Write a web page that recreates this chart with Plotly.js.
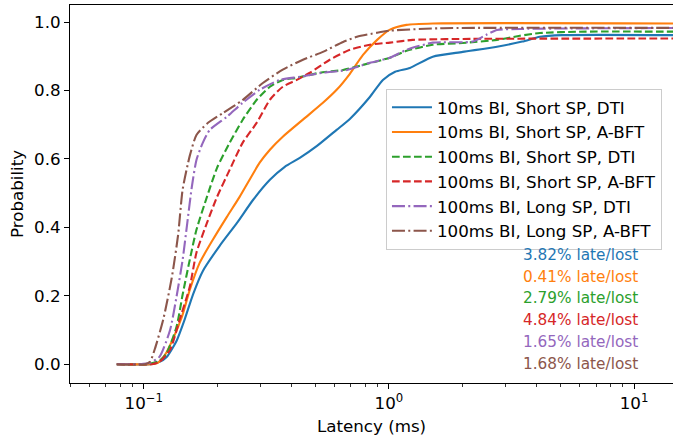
<!DOCTYPE html>
<html>
<head>
<meta charset="utf-8">
<script src="https://cdn.plot.ly/plotly-3.0.1.min.js"></script>
<style>html,body{margin:0;padding:0;background:#fff;}#chart{width:673px;height:443px;}</style>
</head>
<body>
<div id="chart"></div>
<script>
// Series names and colors
const seriesNames = [
  "10ms BI, Short SP, DTI",
  "10ms BI, Short SP, A-BFT",
  "100ms BI, Short SP, DTI",
  "100ms BI, Short SP, A-BFT",
  "100ms BI, Long SP, DTI",
  "100ms BI, Long SP, A-BFT"
];
const lateLost = ["3.82% late/lost","0.41% late/lost","2.79% late/lost","4.84% late/lost","1.65% late/lost","1.68% late/lost"];

// CDF data (latency in ms, probability)
const s1x = [0.0776,0.106,0.116,0.124,0.136,0.147,0.159,0.174,0.204,0.240,0.279,0.327,0.376,0.433,0.509,0.612,0.693,0.836,0.945,1.06,1.218,1.51,2.0,2.76,3.5,4.13,5.1,15];
const s1y = [0,0,0.0067,0.021,0.068,0.132,0.205,0.272,0.346,0.413,0.480,0.539,0.577,0.603,0.638,0.685,0.717,0.781,0.831,0.855,0.866,0.899,0.913,0.928,0.943,0.957,0.962,0.962];

const s2x = [0.0776,0.106,0.114,0.122,0.131,0.143,0.154,0.169,0.191,0.218,0.246,0.297,0.327,0.369,0.446,0.538,0.612,0.693,0.784,0.895,1.01,1.18,1.51,15];
const s2y = [0,0,0.004,0.027,0.071,0.138,0.217,0.296,0.363,0.430,0.489,0.589,0.627,0.665,0.715,0.764,0.802,0.849,0.904,0.948,0.978,0.992,0.996,0.996];

const s3x = [0.0776,0.104,0.116,0.124,0.136,0.144,0.154,0.164,0.181,0.199,0.224,0.253,0.289,0.327,0.369,0.421,0.523,0.650,0.784,1.01,1.18,1.51,2.0,2.76,3.42,4.13,5.99,15];
const s3y = [0,0,0.010,0.033,0.109,0.203,0.305,0.393,0.489,0.574,0.647,0.714,0.773,0.811,0.831,0.837,0.852,0.860,0.875,0.896,0.916,0.934,0.939,0.948,0.960,0.968,0.972,0.972];

const s4x = [0.0776,0.108,0.116,0.128,0.140,0.154,0.164,0.181,0.199,0.224,0.253,0.289,0.327,0.369,0.421,0.476,0.574,0.693,0.836,1.01,1.25,2.2,15];
const s4y = [0,0,0.007,0.042,0.130,0.226,0.326,0.413,0.489,0.568,0.647,0.706,0.773,0.811,0.831,0.852,0.890,0.919,0.934,0.940,0.948,0.951,0.952];

const s5x = [0.0776,0.0963,0.106,0.116,0.128,0.136,0.144,0.151,0.157,0.164,0.174,0.186,0.218,0.253,0.297,0.359,0.433,0.538,0.674,0.836,1.01,1.18,1.51,2.2,2.5,2.76,3.42,15];
const s5y = [0,0,0.004,0.022,0.100,0.197,0.305,0.422,0.518,0.597,0.647,0.685,0.723,0.764,0.802,0.831,0.840,0.852,0.860,0.881,0.896,0.919,0.940,0.943,0.963,0.977,0.980,0.983];

const s6x = [0.0776,0.101,0.106,0.111,0.120,0.130,0.138,0.144,0.154,0.164,0.181,0.210,0.253,0.306,0.369,0.446,0.538,0.650,0.741,0.895,1.01,1.61,15];
const s6y = [0,0,0.007,0.045,0.130,0.252,0.377,0.510,0.609,0.670,0.703,0.734,0.772,0.822,0.861,0.890,0.913,0.942,0.957,0.969,0.975,0.982,0.983];

const xTickVals = [0.1, 1, 10];
const xTickText = ["10<sup>\u22121</sup>", "10<sup>0</sup>", "10<sup>1</sup>"];
const xMinorVals = [0.05,0.06,0.07,0.08,0.09,0.2,0.3,0.4,0.5,0.6,0.7,0.8,0.9,2,3,4,5,6,7,8,9];
const yTickVals = [0,0.2,0.4,0.6,0.8,1.0];

const colors = ["#1f77b4","#ff7f0e","#2ca02c","#d62728","#9467bd","#8c564b"];
const dashes = ["solid","solid","7.7px,3.3px","7.7px,3.3px","13px,3.3px,2px,3.3px","13px,3.3px,2px,3.3px"];
const xs = [s1x,s2x,s3x,s4x,s5x,s6x];
const ys = [s1y,s2y,s3y,s4y,s5y,s6y];

const FONT = "DejaVu Sans, sans-serif";
const FS = 16.7;
const traces = xs.map((x,i)=>({
  x: x, y: ys[i], type: "scatter", mode: "lines", name: seriesNames[i],
  line: {color: colors[i], width: 2.1, dash: dashes[i], shape: "spline", smoothing: 0.6}
}));

const annotations = lateLost.map((t,i)=>({
  text: t, xref: "paper", yref: "paper", x: 0.946, y: 0.3386 - i*0.0575,
  xanchor: "right", yanchor: "middle", showarrow: false,
  font: {family: FONT, size: 15.3, color: colors[i]}
}));

const layout = {
  width: 673, height: 443,
  margin: {l: 70, r: 0, t: 5, b: 60},
  paper_bgcolor: "#fff", plot_bgcolor: "#fff",
  font: {family: FONT, size: FS, color: "#000"},
  showlegend: true,
  legend: {
    x: 0.524, y: 0.778, xanchor: "left", yanchor: "top",
    bgcolor: "rgba(255,255,255,0.8)", bordercolor: "#cccccc", borderwidth: 1,
    itemwidth: 40,
    font: {family: FONT, size: FS, color: "#000"}
  },
  xaxis: {
    type: "log", range: [Math.log10(0.05), 1.159],
    tickvals: xTickVals, ticktext: xTickText,
    ticks: "outside", ticklen: 5, tickwidth: 1, tickcolor: "#000",
    showline: true, linecolor: "#000", linewidth: 1, mirror: true,
    showgrid: false, zeroline: false,
    minor: {tickvals: xMinorVals, ticks: "outside", ticklen: 3, tickwidth: 0.8, tickcolor: "#000", showgrid: false},
    tickfont: {family: FONT, size: FS, color: "#000"},
    title: {text: "Latency (ms)", font: {family: FONT, size: FS, color: "#000"}, standoff: 8}
  },
  yaxis: {
    range: [-0.055, 1.05],
    tickvals: yTickVals, tickformat: ".1f",
    ticks: "outside", ticklen: 5, tickwidth: 1, tickcolor: "#000",
    showline: true, linecolor: "#000", linewidth: 1, mirror: false,
    showgrid: false, zeroline: false,
    tickfont: {family: FONT, size: FS, color: "#000"},
    title: {text: "Probability", font: {family: FONT, size: FS, color: "#000"}, standoff: 6}
  },
  annotations: annotations
};

Plotly.newPlot("chart", traces, layout, {staticPlot: true, displayModeBar: false});
</script>
</body>
</html>
